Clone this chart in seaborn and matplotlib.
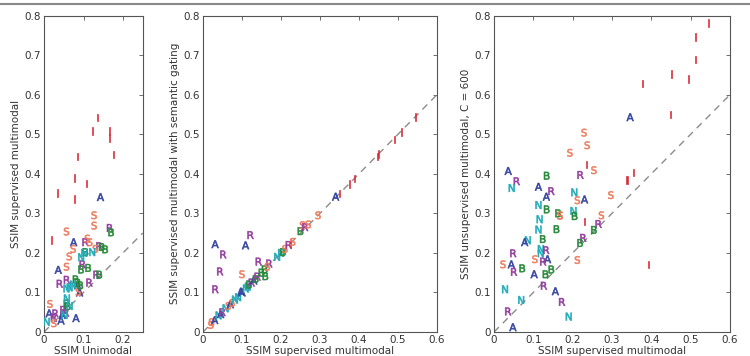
import pandas as pd
import matplotlib
matplotlib.use('Agg')
import matplotlib.pyplot as plt
import seaborn as sns

# --- data ---
# left panel: SSIM unimodal vs supervised multimodal
left_cls = ['I', 'I', 'I', 'I', 'I', 'I', 'I', 'I', 'I', 'I', 'I',
            'A', 'A', 'A', 'A', 'A', 'A', 'A', 'A', 'A',
            'R', 'R', 'R', 'R', 'R', 'R', 'R', 'R', 'R', 'R', 'R', 'R',
            'S', 'S', 'S', 'S', 'S', 'S', 'S', 'S', 'S', 'S', 'S', 'S',
            'B', 'B', 'B', 'B', 'B', 'B', 'B', 'B', 'B', 'B', 'B', 'B',
            'N', 'N', 'N', 'N', 'N', 'N', 'N', 'N', 'N', 'N']
left_x = [0.136, 0.123, 0.167, 0.165, 0.177, 0.085, 0.078, 0.108, 0.034, 0.078, 0.019,
          0.143, 0.075, 0.036, 0.09, 0.085, 0.046, 0.043, 0.013, 0.081,
          0.167, 0.105, 0.14, 0.098, 0.04, 0.115, 0.133, 0.029, 0.025, 0.049, 0.056, 0.058,
          0.127, 0.127, 0.057, 0.11, 0.116, 0.074, 0.13, 0.064, 0.057, 0.015, 0.025, 0.087,
          0.17, 0.146, 0.155, 0.105, 0.094, 0.112, 0.14, 0.08, 0.085, 0.092, 0.057, 0.06,
          0.122, 0.094, 0.102, 0.057, 0.065, 0.073, 0.058, 0.065, 0.007, 0.052]
left_y = [0.542, 0.508, 0.508, 0.49, 0.449, 0.444, 0.39, 0.375, 0.352, 0.336, 0.232,
          0.341, 0.227, 0.157, 0.1, 0.118, 0.043, 0.029, 0.047, 0.035,
          0.263, 0.227, 0.217, 0.171, 0.122, 0.125, 0.145, 0.047, 0.036, 0.056, 0.049, 0.132,
          0.295, 0.269, 0.254, 0.236, 0.227, 0.21, 0.21, 0.191, 0.165, 0.071, 0.022, 0.102,
          0.252, 0.215, 0.209, 0.202, 0.158, 0.162, 0.145, 0.133, 0.125, 0.118, 0.072, 0.065,
          0.202, 0.189, 0.2, 0.11, 0.113, 0.12, 0.085, 0.066, 0.026, 0.043]

# middle panel: supervised multimodal vs supervised multimodal with semantic gating
mid_cls = ['A', 'A', 'R', 'R', 'R', 'R', 'S', 'R', 'R', 'B', 'A',
           'S', 'S', 'A', 'N', 'A', 'R', 'N', 'S', 'A', 'S', 'N', 'N', 'A', 'N', 'N', 'B',
           'R', 'A', 'B', 'R', 'B', 'B', 'S', 'N', 'N', 'B', 'S', 'R', 'I', 'S', 'B', 'S',
           'R', 'S', 'S', 'A', 'I', 'I', 'I', 'I', 'I', 'I', 'I', 'I']
mid_x = [0.031, 0.109, 0.122, 0.052, 0.044, 0.032, 0.1, 0.143, 0.17, 0.16, 0.097,
         0.02, 0.022, 0.03, 0.04, 0.045, 0.05, 0.058, 0.065, 0.07, 0.075, 0.082, 0.09, 0.1, 0.11, 0.115, 0.118,
         0.125, 0.13, 0.135, 0.14, 0.15, 0.158, 0.165, 0.19, 0.2, 0.205, 0.21, 0.22, 0.225, 0.23, 0.25, 0.255,
         0.262, 0.27, 0.295, 0.34, 0.351, 0.375, 0.389, 0.447, 0.45, 0.492, 0.508, 0.546]
mid_y = [0.222, 0.219, 0.245, 0.196, 0.153, 0.108, 0.146, 0.178, 0.173, 0.141, 0.102,
         0.018, 0.025, 0.03, 0.042, 0.045, 0.05, 0.06, 0.066, 0.07, 0.074, 0.082, 0.088, 0.1, 0.11, 0.115, 0.12,
         0.125, 0.13, 0.134, 0.14, 0.15, 0.158, 0.165, 0.19, 0.2, 0.202, 0.21, 0.22, 0.225, 0.228, 0.255, 0.27,
         0.265, 0.272, 0.295, 0.342, 0.35, 0.374, 0.388, 0.444, 0.45, 0.487, 0.506, 0.544]

# right panel: supervised multimodal vs unsupervised multimodal, C = 600
right_cls = ['I', 'I', 'I', 'I', 'I', 'I', 'I', 'A', 'S', 'S', 'S', 'I', 'R', 'S', 'I', 'I',
             'N', 'S', 'A', 'S', 'N', 'B', 'S', 'I', 'R', 'B', 'R', 'B', 'S', 'I', 'R', 'N', 'S',
             'A', 'R', 'N', 'B', 'A', 'R', 'A', 'N', 'B', 'B', 'S', 'N', 'N', 'B', 'N', 'B',
             'N', 'A', 'R', 'N', 'R', 'A', 'R', 'S', 'S', 'A', 'R', 'B', 'A', 'B', 'B', 'R',
             'A', 'N', 'N', 'R', 'A']
right_x = [0.546, 0.511, 0.511, 0.451, 0.494, 0.377, 0.448, 0.346, 0.229, 0.237, 0.193, 0.234, 0.22, 0.254, 0.354, 0.338,
           0.204, 0.212, 0.23, 0.297, 0.202, 0.205, 0.273, 0.229, 0.266, 0.254, 0.227, 0.219, 0.212, 0.393, 0.173, 0.19, 0.168,
           0.036, 0.058, 0.045, 0.134, 0.113, 0.146, 0.133, 0.113, 0.134, 0.163, 0.168, 0.116, 0.113, 0.159, 0.086, 0.124,
           0.119, 0.078, 0.049, 0.119, 0.133, 0.136, 0.125, 0.104, 0.023, 0.044, 0.051, 0.072, 0.102, 0.131, 0.146, 0.127,
           0.156, 0.028, 0.069, 0.036, 0.048]
right_y = [0.781, 0.746, 0.689, 0.652, 0.639, 0.628, 0.55, 0.543, 0.504, 0.472, 0.453, 0.423, 0.397, 0.409, 0.403, 0.384,
           0.353, 0.333, 0.335, 0.346, 0.306, 0.293, 0.295, 0.279, 0.273, 0.258, 0.238, 0.225, 0.182, 0.171, 0.076, 0.039, 0.294,
           0.407, 0.381, 0.364, 0.395, 0.367, 0.356, 0.342, 0.321, 0.31, 0.3, 0.295, 0.285, 0.259, 0.26, 0.232, 0.235,
           0.199, 0.227, 0.199, 0.21, 0.207, 0.184, 0.178, 0.184, 0.171, 0.171, 0.152, 0.161, 0.146, 0.146, 0.158, 0.117,
           0.103, 0.108, 0.081, 0.052, 0.012]

palette = {'A': '#34449e', 'R': '#943f9f', 'S': '#ee7c5e', 'B': '#278a3b',
           'N': '#22abb8', 'I': '#dd2a36'}
markers = {k: '$\\mathsf{%s}$' % k for k in palette}

sns.set_theme(style="white")
plt.rcParams['font.family'] = ['DejaVu Sans']
plt.rcParams['axes.edgecolor'] = '#555555'
plt.rcParams['axes.linewidth'] = 0.8

fig = plt.figure(figsize=(7.5, 3.56), dpi=100)
# thin rule along the top of the figure
fig.add_artist(plt.Line2D([0, 1], [0.989, 0.989], color='#888888', lw=1.5))

panels = [
    (left_x, left_y, left_cls, [0.0587, 0.0674, 0.1316, 0.889], 0.25,
     'SSIM Unimodal', 'SSIM supervised multimodal', [0, 0.1, 0.2]),
    (mid_x, mid_y, mid_cls, [0.2707, 0.0674, 0.312, 0.889], 0.6,
     'SSIM supervised multimodal', 'SSIM supervised multimodal with semantic gating',
     [0, 0.1, 0.2, 0.3, 0.4, 0.5, 0.6]),
    (right_x, right_y, right_cls, [0.6587, 0.0674, 0.3147, 0.889], 0.6,
     'SSIM supervised multimodal', 'SSIM unsupervised multimodal, C = 600',
     [0, 0.1, 0.2, 0.3, 0.4, 0.5, 0.6]),
]

yticks = [0, 0.1, 0.2, 0.3, 0.4, 0.5, 0.6, 0.7, 0.8]

for xs, ys, cls, rect, xmax, xl, yl, xticks in panels:
    ax = fig.add_axes(rect)
    df = pd.DataFrame({'x': xs, 'y': ys, 'cls': cls})
    ax.plot([0, xmax], [0, xmax], '--', color='#8c8c8c', lw=1.0, dashes=(5, 4), zorder=1)
    sns.scatterplot(data=df, x='x', y='y', hue='cls', style='cls', palette=palette,
                    markers=markers, s=30, linewidth=0.45, edgecolor='face',
                    legend=False, ax=ax, zorder=3)
    ax.set_xlim(0, xmax)
    ax.set_ylim(0, 0.8)
    ax.set_xticks(xticks)
    ax.set_xticklabels(['0' if t == 0 else f'{t:g}' for t in xticks])
    ax.set_yticks(yticks)
    ax.set_yticklabels(['0' if t == 0 else f'{t:g}' for t in yticks])
    ax.tick_params(direction='in', length=3, width=0.6, colors='#555555', labelcolor='#333333',
                   labelsize=7.5, top=True, right=True, pad=2)
    ax.set_xlabel(xl, fontsize=7.5, color='#333333', labelpad=1)
    ax.set_ylabel(yl, fontsize=7.5, color='#333333', labelpad=3)
    for sp in ax.spines.values():
        sp.set_visible(True)

fig.savefig('out.png', dpi=100)
